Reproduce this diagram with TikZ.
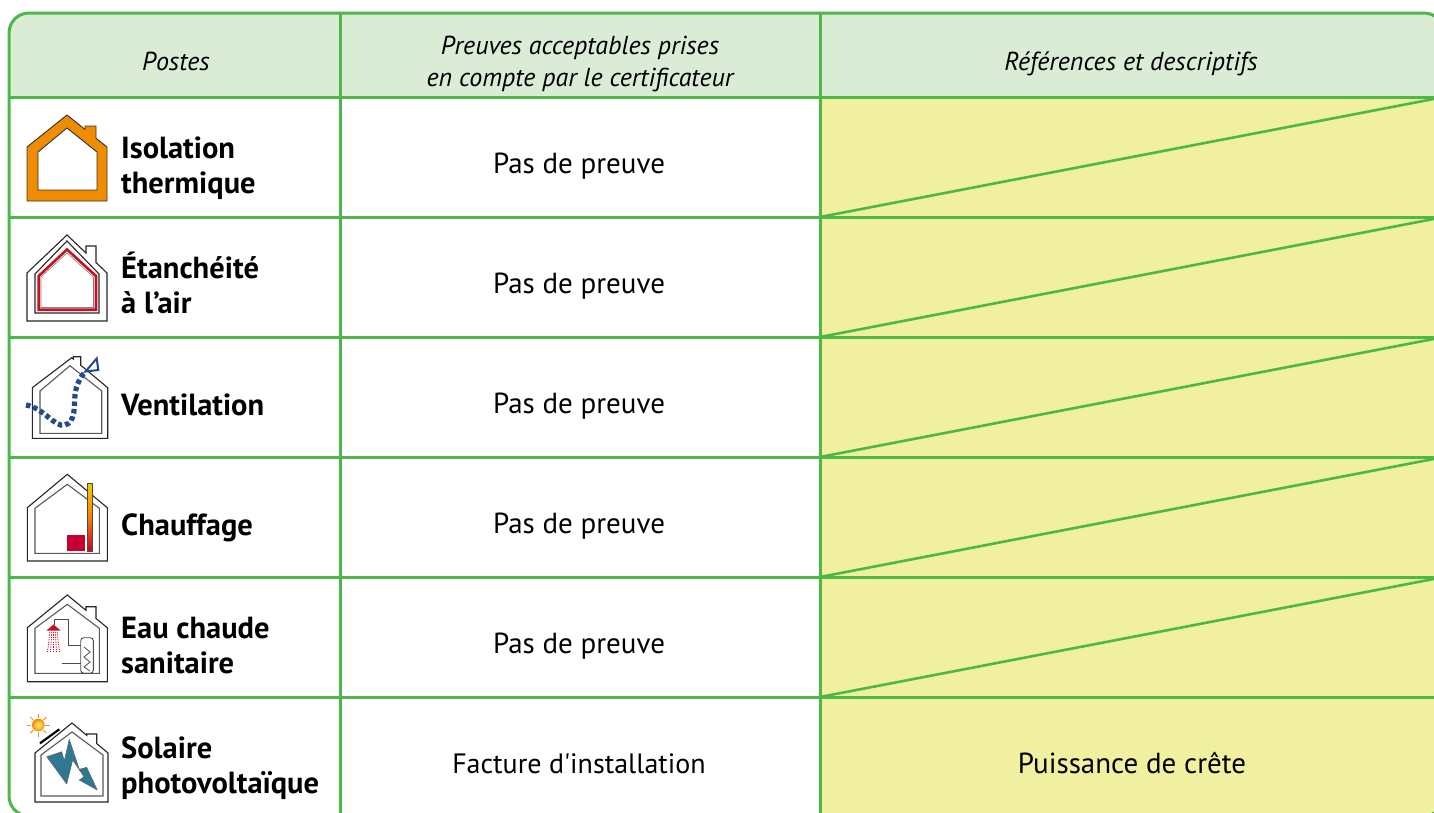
\documentclass[tikz,border=0pt]{standalone}
\usepackage{fontspec}
\setmainfont{PT Sans}[Ligatures=TeXOff]
\definecolor{gridgreen}{RGB}{77,184,72}
\definecolor{headfill}{RGB}{218,236,214}
\definecolor{yelfill}{RGB}{240,240,160}
\definecolor{orangeH}{RGB}{240,140,0}
\definecolor{redH}{RGB}{200,16,32}
\definecolor{ventblue}{RGB}{35,75,140}
\definecolor{boltteal}{RGB}{46,120,145}
\definecolor{crimsonH}{RGB}{200,0,50}
\definecolor{pipeY}{RGB}{235,205,0}
\definecolor{pipeR}{RGB}{200,0,40}
\definecolor{sunor}{RGB}{240,150,40}
\tikzset{
  gridline/.style={draw=gridgreen, line width=3pt},
  hdr/.style={font=\itshape\fontsize{26}{32}\selectfont, anchor=base, inner sep=0pt, align=center},
  lbl/.style={font=\bfseries\fontsize{30.5}{35}\selectfont, anchor=base west, inner sep=0pt, align=left},
  cell/.style={font=\fontsize{29}{34}\selectfont, anchor=base, inner sep=0pt},
  houseline/.style={draw=black!85, line width=1.1pt, line join=miter},
  innerline/.style={draw=black!65, line width=1.1pt},
}
\begin{document}
\begin{tikzpicture}[x=1pt,y=-1pt]
\useasboundingbox (0,0) rectangle (1434,812);
\clip (0,0) rectangle (1434,812);
% fills
\begin{scope}
  \clip[rounded corners=20pt] (9,13) rectangle (1444,816);
  \fill[headfill] (9,13) rectangle (1444,97);
  \fill[white] (9,97) rectangle (820,816);
  \fill[yelfill] (820,97) rectangle (1444,816);
\end{scope}
% grid
\foreach \y in {97,217,337,457,577,697} \draw[gridline] (9,\y) -- (1444,\y);
\draw[gridline] (340,13) -- (340,816);
\draw[gridline] (820,13) -- (820,816);
\foreach \t/\b in {97/217,217/337,337/457,457/577,577/697}
  \draw[gridline, line width=2.6pt] (820,\b) -- (1444,\t);
\draw[gridline, rounded corners=20pt] (9,13) rectangle (1444,816);

% header
\node[hdr] (hpostes) at (176,70) {Postes};
\node[hdr] (hpreuves) at (580,86) {Preuves acceptables prises\\en compte par le certificateur};
\node[hdr] (hrefs) at (1131,70) {Références et descriptifs};

% labels
\node[lbl] (l1) at (121,193) {Isolation\\thermique};
\node[lbl] (l2) at (121,313) {Étanchéité\\à l’air};
\node[lbl] (l3) at (121,415) {Ventilation};
\node[lbl] (l4) at (121,535) {Chauffage};
\node[lbl] (l5) at (121,673) {Eau chaude\\sanitaire};
\node[lbl] (l6) at (121,793) {Solaire\\photovoltaïque};

% middle
\foreach \r/\yb in {1/173,2/293,3/413,4/533,5/653}
  \node[cell] (p\r) at (579,\yb) {Pas de preuve};
\node[cell, font=\fontsize{28}{34}\selectfont] (p6) at (579,773) {Facture d'installation};
\node[cell] (ref6) at (1132,773) {Puissance de crête};

% icon 1 : isolation
\fill[orangeH, draw=black!80, line width=0.9pt, even odd rule]
  (27,201) -- (27,147) -- (67,115) -- (85,129.4) -- (85,126) -- (96,126) -- (96,138.2) -- (107,147) -- (107,201) -- cycle
  (38,190) -- (38,152) -- (67,128) -- (97,152) -- (97,190) -- cycle;

% icon 2 : etancheite
\draw[houseline] (27,321) -- (27,273) -- (67,235) -- (86,253) -- (86,246) -- (96,246) -- (96,262.5) -- (107,273) -- (107,321) -- cycle;
\draw[houseline] (35,313) -- (35,274) -- (67,241) -- (99,274) -- (99,313) -- cycle;
\draw[redH, line width=2.6pt] (38.7,309.7) -- (38.7,276) -- (67,249.5) -- (96,276) -- (96,309.7) -- cycle;
\draw[black!50, line width=0.6pt] (41,307.5) -- (41,277) -- (67,253) -- (93.5,277) -- (93.5,307.5) -- cycle;

% icon 3 : ventilation
\draw[houseline] (32.3,438.3) -- (32.3,387.7) -- (71.7,357.7) -- (73.3,359) -- (73.3,356.7) -- (80.7,356.7) -- (80.7,365.2) -- (107.7,387.7) -- (107.7,438.3) -- cycle;
\draw[innerline] (40,433.3) -- (40,391) -- (70,365.7) -- (101.7,391) -- (101.7,433.3) -- cycle;
\draw[ventblue, line width=5.2pt, dash pattern=on 4.5pt off 3pt]
  (26,405) .. controls (44,408) and (55,428) .. (65,425) .. controls (76,422) and (74,405) .. (75,395) .. controls (76,385) and (81,376) .. (85,372);
\draw[ventblue, line width=2pt, line join=miter] (85.5,371.5) -- (96.7,358.5) -- (98.3,370) -- cycle;

% icon 4 : chauffage
\draw[houseline] (27.3,561) -- (27.3,507.7) -- (67.3,474.3) -- (107.3,507.7) -- (107.3,561) -- cycle;
\draw[innerline] (35,553.3) -- (35,508.3) -- (67.3,484.3) -- (99.3,508.3) -- (99.3,553.3) -- cycle;
\shade[top color=pipeY, bottom color=pipeR, middle color=orange] (87.3,483.3) rectangle (92.7,551);
\draw[black!70, line width=0.5pt] (87.3,483.3) rectangle (92.7,551);
\fill[crimsonH] (66.7,535) rectangle (85,550.7);

% icon 5 : eau chaude
\draw[houseline] (27.3,681.7) -- (27.3,627.7) -- (67.3,595) -- (86,610.3) -- (86,606.7) -- (96,606.7) -- (96,618.5) -- (107.3,627.7) -- (107.3,681.7) -- cycle;
\draw[innerline] (35,673.3) -- (35,628.3) -- (67.3,604.3) -- (99.3,628.3) -- (99.3,673.3) -- cycle;
\draw[black!70, line width=0.9pt] (54,625) -- (54,619) -- (68.3,619) -- (68.3,645.7) -- (80.7,645.7);
\fill[redH] (46.5,630.5) -- (53.5,624.5) -- (60.5,630.5) -- cycle;
\foreach \dx in {-6,-3,0,3,6}
  \draw[redH, line width=0.8pt, dash pattern=on 1.2pt off 1.2pt] (53.5+\dx*0.6,632) -- (53.5+\dx,652);
\draw[black!70, line width=0.9pt, rounded corners=3pt] (80.7,637.7) rectangle (93.3,673.3);
\draw[black!70, line width=0.8pt] (84,647) -- (90,652) -- (84,657) -- (90,662) -- (84,667) -- (90,671);
\draw[black!70, line width=0.9pt] (62,663.3) -- (80.7,663.3);

% icon 6 : solaire
\draw[houseline] (35,802) -- (35,753) -- (72,723) -- (86.7,735.3) -- (86.7,734) -- (96.7,734) -- (96.7,743.6) -- (108,753) -- (108,802) -- cycle;
\draw[innerline] (41,796) -- (41,755) -- (72,732) -- (103,755) -- (103,796) -- cycle;
\draw[black, line width=2.2pt] (40,743.3) -- (59.3,729.3);
\foreach \a in {0,45,...,315}
  \draw[sunor, line width=1pt] (38.3,725) ++(\a:7) -- ++(\a:4.5);
\shade[inner color=yellow!50, outer color=orange] (38.3,725) circle (6.3);
\fill[boltteal, draw=black!60, line width=0.5pt, line join=round]
  (46.7,756.7) -- (61.7,751.7) -- (64.3,760.7) -- (69.3,739.3) -- (79.3,769.3) -- (86.7,767.3)
  -- (97.3,790) -- (79.3,780) -- (84,776.7) -- (72.7,760) -- (66.7,784) -- cycle;
\end{tikzpicture}
\end{document}
